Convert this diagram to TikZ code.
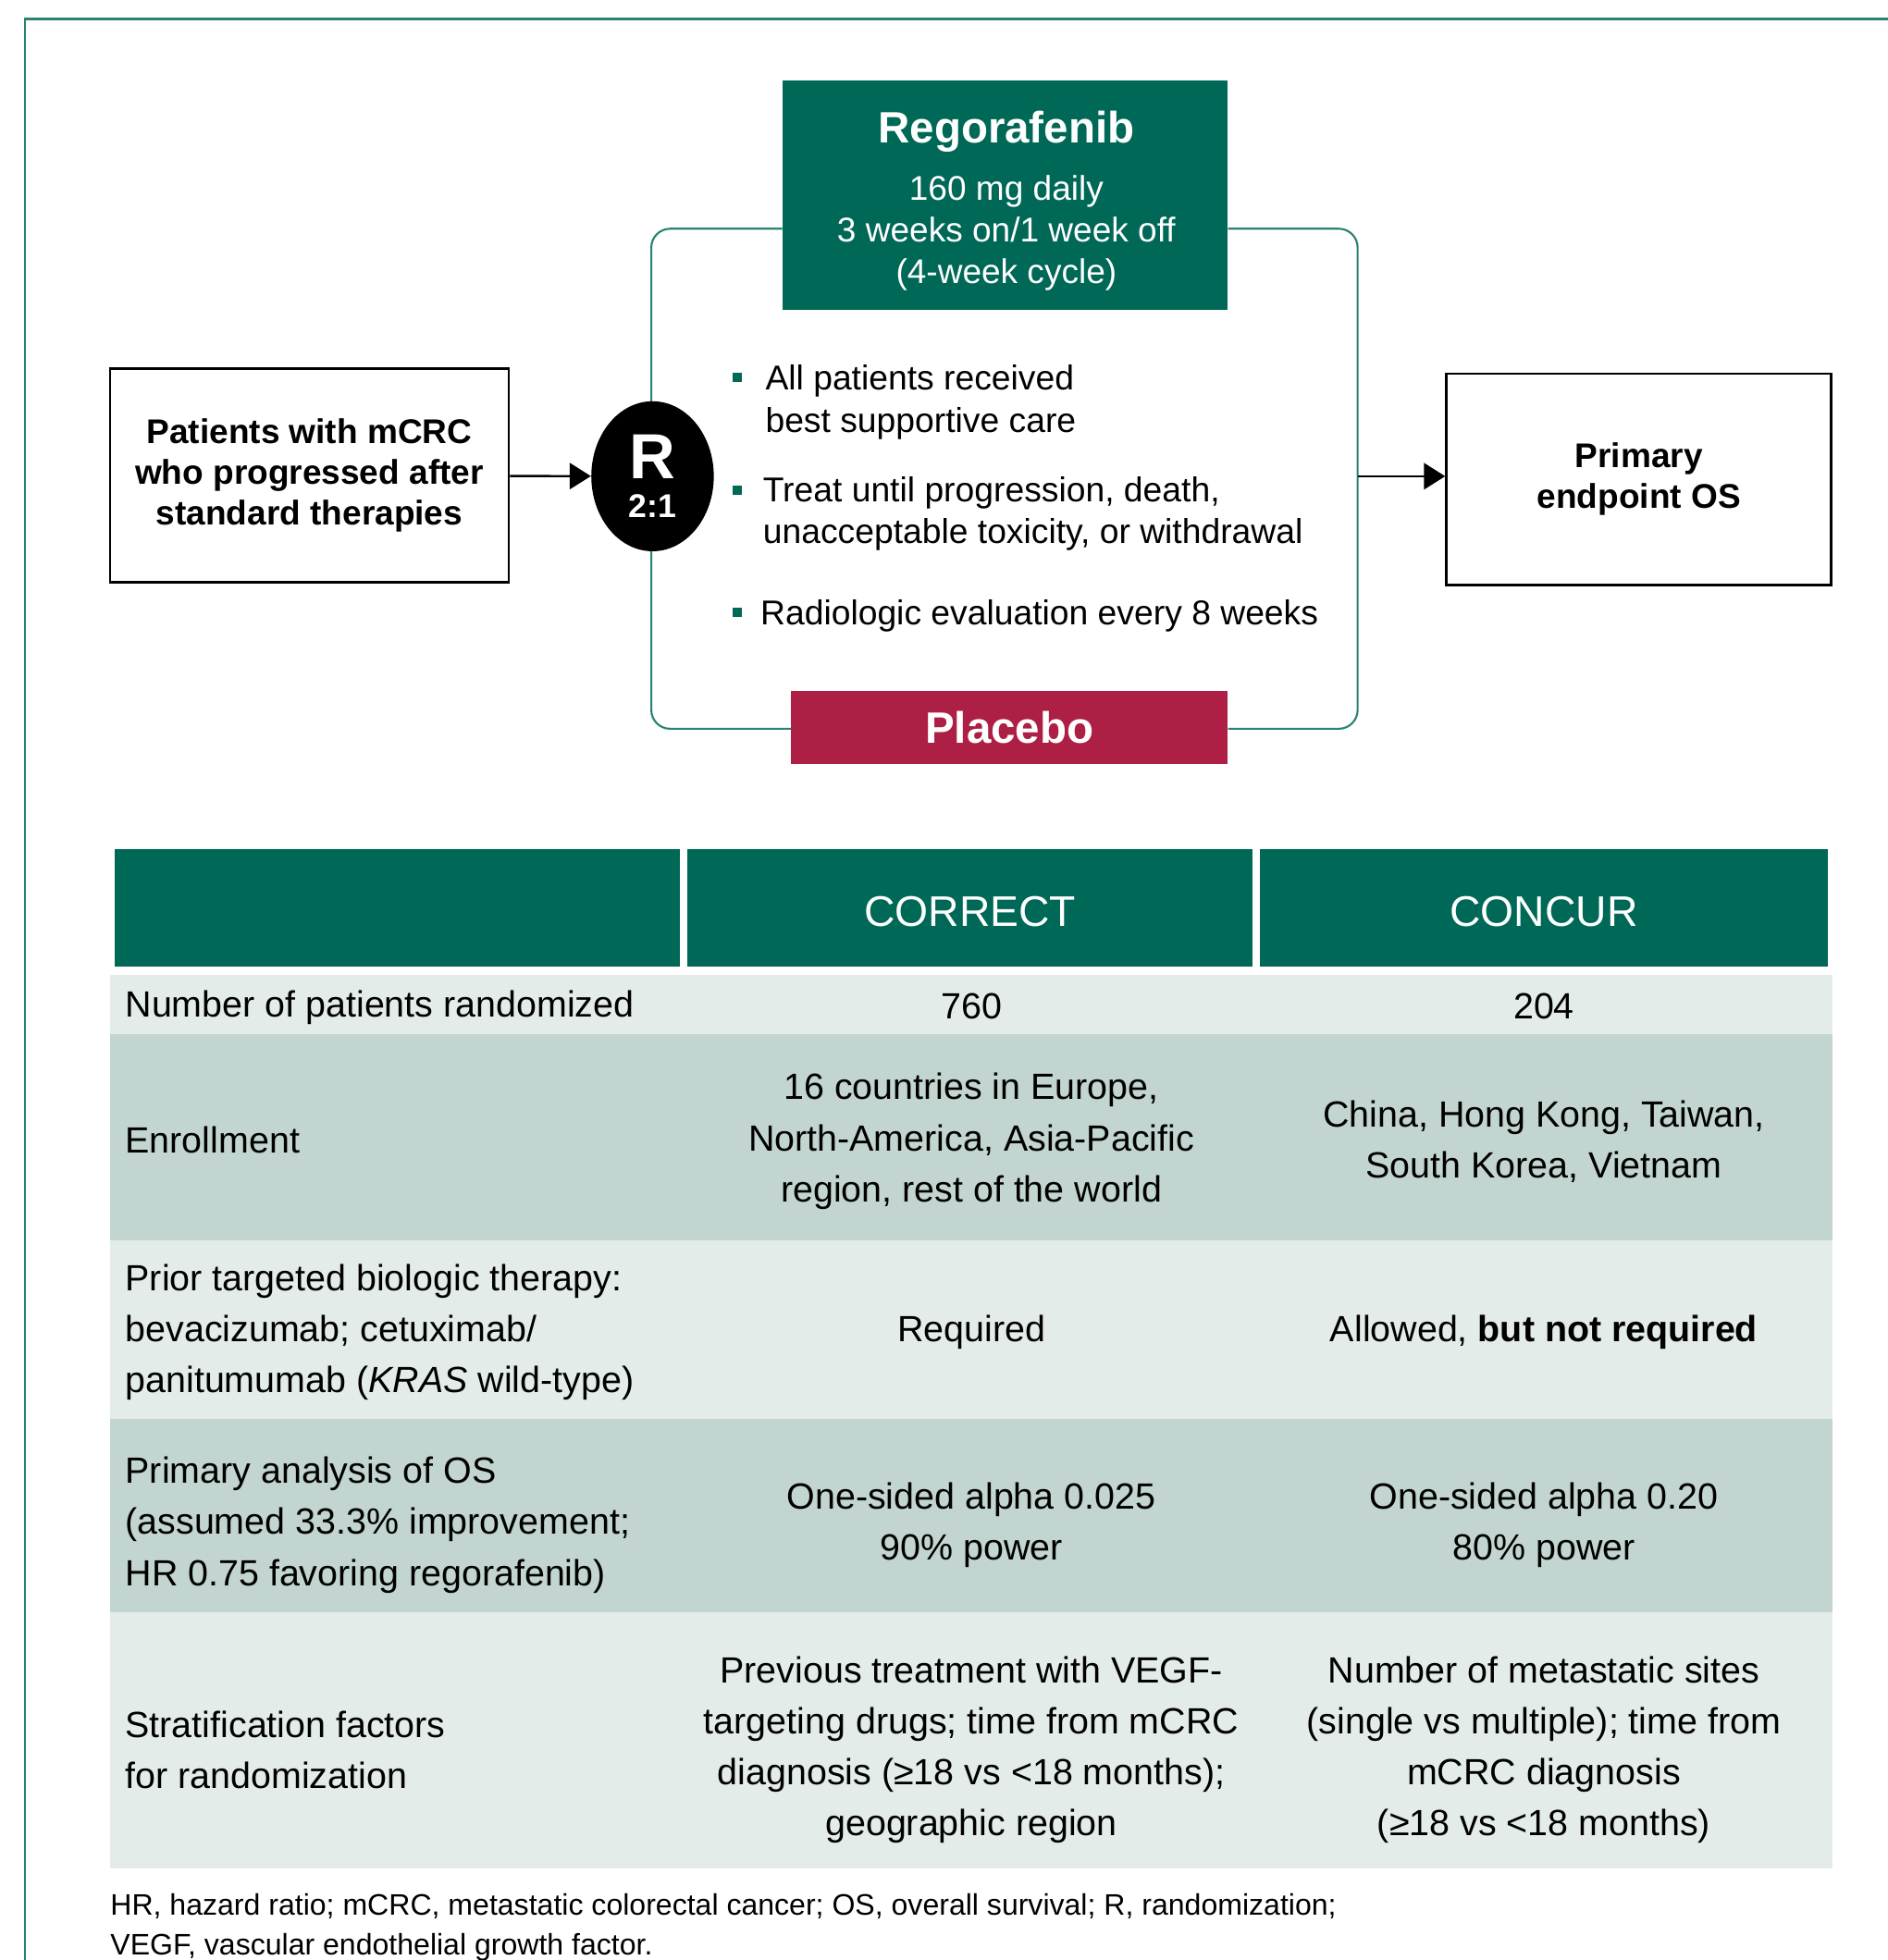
\documentclass[tikz,border=0pt]{standalone}
\usepackage{fontspec}
\setmainfont{Liberation Sans}
\usetikzlibrary{arrows.meta,positioning,shapes.geometric}

\definecolor{regogreen}{HTML}{006856}
\definecolor{placred}{HTML}{AD1F45}
\definecolor{armteal}{HTML}{2A8272}
\definecolor{rowlight}{HTML}{E4ECE9}
\definecolor{rowdark}{HTML}{C2D5D0}

\newcommand{\boxbold}{\fontsize{15.6}{18.6}\selectfont\bfseries}
\newcommand{\bulfont}{\fontsize{15.7}{19.3}\selectfont}
\newcommand{\armtitle}{\fontsize{20}{24}\selectfont\bfseries}
\newcommand{\armfont}{\fontsize{15.6}{19}\selectfont}
\newcommand{\headfont}{\fontsize{19.5}{23}\selectfont}
\newcommand{\tabfont}{\fontsize{16.6}{23.2}\selectfont}
\newcommand{\notefont}{\fontsize{13.5}{18.2}\selectfont}

\begin{document}
\begin{tikzpicture}[x=0.02cm, y=-0.02cm,
    flowbox/.style={draw=black, line width=1.1pt, align=center, font=\boxbold, inner sep=0pt},
    armbox/.style={fill=#1, text=white, align=center, inner sep=0pt},
    arm/.style={draw=armteal, line width=0.9pt, rounded corners=0.3cm},
    flow/.style={draw=black, line width=1pt, -{Triangle[length=0.34cm,width=0.42cm]}},
    bullet/.style={fill=regogreen, minimum size=0.15cm, inner sep=0pt},
    bultext/.style={align=left, font=\bulfont, inner sep=0pt, anchor=west, yshift=-0.06cm},
    headcell/.style={fill=regogreen, text=white, font=\headfont, text height=17.5pt, minimum width=#1, minimum height=1.88cm, inner sep=0pt},
    cell/.style={align=center, font=\tabfont, inner sep=0pt, yshift=-0.06cm},
    rowhead/.style={align=left, font=\tabfont, inner sep=0pt, anchor=west, yshift=-0.06cm},
]
    \useasboundingbox (0,0) rectangle (1510,1568);
    \draw[armteal, line width=1.2pt] (1510,15) -- (20,15) -- (20,1568);

    \node[armbox=regogreen, minimum width=7.12cm, minimum height=3.68cm] (rego) at (804,156) {};
    \node[armbox=regogreen, font=\armfont] (regotext) at (805,161)
        {{\armtitle Regorafenib}\\[7pt]160 mg daily\\3 weeks on/1 week off\\(4-week cycle)};
    \node[armbox=placred, minimum width=6.98cm, minimum height=1.16cm, font=\armtitle] (placebo) at (807.5,582) {Placebo};

    \coordinate (tl) at (521,183);
    \coordinate (bl) at (521,583);
    \coordinate (tr) at (1086,183);
    \coordinate (br) at (1086,583);
    \coordinate (armout) at (1086,381);
    \draw[arm] (rego.west |- tl) -- (tl) -- (bl) -- (placebo.west |- bl);
    \draw[arm] (rego.east |- tr) -- (tr) -- (br) -- (placebo.east |- br);

    \node[flowbox, minimum width=6.38cm, minimum height=3.42cm] (patients) at (247.5,380.5)
        {Patients with mCRC\\who progressed after\\standard therapies};
    \node[ellipse, fill=black, text=white, minimum width=1.96cm, minimum height=2.4cm, inner sep=0pt, align=center,
        font=\bfseries\fontsize{15}{18}\selectfont] (rand) at (522,381) {{\fontsize{29}{18}\selectfont R}\\2:1};
    \node[flowbox, minimum width=6.16cm, minimum height=3.38cm] (endpoint) at (1311,383.5) {Primary\\endpoint OS};

    \draw[flow] (patients) -- (rand);
    \draw[flow] (armout) -- (endpoint.west |- armout);

    \node[bullet] (b1) at (590,302) {};
    \node[bullet] (b2) at (590,392) {};
    \node[bullet] (b3) at (590,490) {};
    \node[bultext] (t1) at (612,319) {All patients received\\best supportive care};
    \node[bultext] (t2) at (610,408) {Treat until progression, death,\\unacceptable toxicity, or withdrawal};
    \node[bultext] (t3) at (608,490) {Radiologic evaluation every 8 weeks};

    \node[headcell=9.04cm] (hblank) at (318,726) {};
    \node[headcell=9.04cm] (hcorrect) at (776,726) {CORRECT};
    \node[headcell=9.08cm] (hconcur) at (1235,726) {CONCUR};

    \foreach \ya/\yb/\rowcol in {780/827/rowlight, 827/992/rowdark, 992/1135/rowlight, 1135/1290/rowdark, 1290/1495/rowlight}
        \fill[\rowcol] (88,\ya) rectangle (1466,\yb);

    \node[rowhead] (r1a) at (100,803) {Number of patients randomized};
    \node[cell] (r1b) at (777,802) {760};
    \node[cell] (r1c) at (1235,802) {204};
    \node[rowhead] (r2a) at (100,909) {Enrollment};
    \node[cell] (r2b) at (777,910) {16 countries in Europe,\\North-America, Asia-Pacific\\region, rest of the world};
    \node[cell] (r2c) at (1235,910) {China, Hong Kong, Taiwan,\\South Korea, Vietnam};
    \node[rowhead] (r3a) at (100,1063) {Prior targeted biologic therapy:\\bevacizumab; cetuximab/\\panitumumab (\textit{KRAS} wild-type)};
    \node[cell] (r3b) at (777,1063) {Required};
    \node[cell] (r3c) at (1235,1063) {Allowed, \textbf{but not required}};
    \node[rowhead] (r4a) at (100,1217) {Primary analysis of OS\\(assumed 33.3\% improvement;\\HR 0.75 favoring regorafenib)};
    \node[cell] (r4b) at (777,1217) {One-sided alpha 0.025\\90\% power};
    \node[cell] (r4c) at (1235,1217) {One-sided alpha 0.20\\80\% power};
    \node[rowhead] (r5a) at (100,1397) {Stratification factors\\for randomization};
    \node[cell] (r5b) at (777,1397) {Previous treatment with VEGF-\\targeting drugs; time from mCRC\\diagnosis (≥18 vs <18 months);\\geographic region};
    \node[cell] (r5c) at (1235,1397) {Number of metastatic sites\\(single vs multiple); time from\\mCRC diagnosis\\(≥18 vs <18 months)};

    \node[anchor=west, align=left, font=\notefont, inner sep=0pt] (note) at (88,1542)
        {HR, hazard ratio; mCRC, metastatic colorectal cancer; OS, overall survival; R, randomization;\\VEGF, vascular endothelial growth factor.};
\end{tikzpicture}
\end{document}
